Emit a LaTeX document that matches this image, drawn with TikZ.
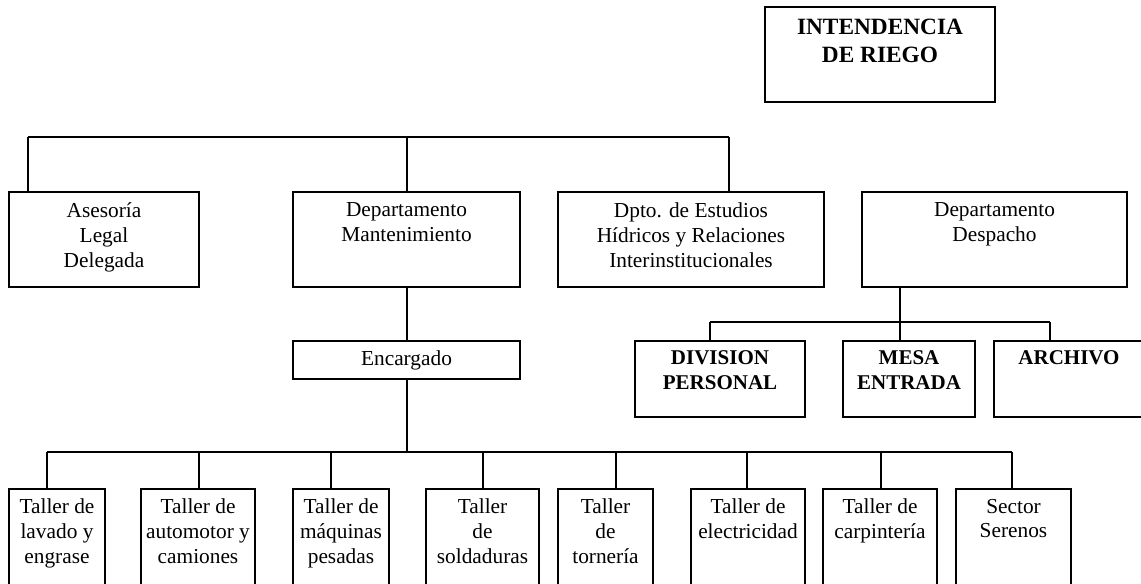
\documentclass[tikz,border=0pt]{standalone}
\usepackage{fontspec}
\setmainfont{Liberation Serif}
\usetikzlibrary{fit}

\tikzset{
  caja/.style={draw, line width=2pt, inner sep=0pt},
  linea/.style={line width=1.5pt},
  texto/.style={anchor=north, inner sep=0pt, align=center, font=\fontsize{16}{18.6}\selectfont},
  negrita/.style={anchor=north, inner sep=0pt, align=center, font=\fontsize{15.75}{18.75}\selectfont\bfseries},
}

\begin{document}
\begin{tikzpicture}[x=0.75pt,y=0.75pt,yscale=-1,xscale=1]
\path [use as bounding box, clip] (0,0) rectangle (1141,583);

%Shape: Rectangle [top]
\node [caja, fit={(765,7) (995,102)}] (intendencia) {};
%Shape: Rectangle [first level]
\node [caja, fit={(9,192) (199,287)}] (asesoria) {};
\node [caja, fit={(293,192) (520,287)}] (mant) {};
\node [caja, fit={(558,192) (824,287)}] (estudios) {};
\node [caja, fit={(862,192) (1127,287)}] (despacho) {};
%Shape: Rectangle [second level]
\node [caja, fit={(293,341) (520,379)}] (encargado) {};
\node [caja, fit={(635,341) (805,417)}] (division) {};
\node [caja, fit={(843,341) (975,417)}] (mesa) {};
\node [caja, fit={(994,341) (1144,417)}] (archivo) {};
%Shape: Rectangle [talleres]
\node [caja, fit={(9,489) (105,600)}] (t1) {};
\node [caja, fit={(141,489) (255,600)}] (t2) {};
\node [caja, fit={(293,489) (389,600)}] (t3) {};
\node [caja, fit={(426,489) (539,600)}] (t4) {};
\node [caja, fit={(558,489) (653,600)}] (t5) {};
\node [caja, fit={(691,489) (805,600)}] (t6) {};
\node [caja, fit={(823,489) (937,600)}] (t7) {};
\node [caja, fit={(956,489) (1071,600)}] (t8) {};

%Straight Lines [first level]
\coordinate (bus1L) at (28,137);
\coordinate (bus1R) at (729,137);
\draw [linea] (bus1L) -- (bus1R);
\draw [linea] (bus1L) -- (bus1L |- asesoria.north);
\draw [linea] (mant.north |- bus1L) -- (mant.north);
\draw [linea] (bus1R) -- (bus1R |- estudios.north);
%Straight Lines [despacho]
\coordinate (bus2L) at (710,322);
\coordinate (bus2M) at (900,322);
\coordinate (bus2R) at (1050,322);
\draw [linea] (bus2L) -- (bus2R);
\draw [linea] (bus2M |- despacho.south) -- (bus2M) -- (bus2M |- mesa.north);
\draw [linea] (bus2L) -- (bus2L |- division.north);
\draw [linea] (bus2R) -- (bus2R |- archivo.north);
%Straight Lines [mantenimiento]
\draw [linea] (mant.south) -- (encargado.north);
\foreach \x/\n in {47/t1,199/t2,331/t3,483/t4,616/t5,747/t6,881/t7,1012/t8}
  \coordinate (c\n) at (\x,452);
\draw [linea] (ct1) -- (ct8);
\draw [linea] (encargado.south) -- (encargado.south |- ct1);
\foreach \n in {t1,t2,t3,t4,t5,t6,t7,t8}
  \draw [linea] (c\n) -- (c\n |- \n.north);

% Text Node
\node [negrita, font=\fontsize{17.5}{21}\selectfont\bfseries] (intendencia-txt) at ([yshift=9.75pt]intendencia.north) {INTENDENCIA\\DE RIEGO};
% Text Node
\node [texto] (asesoria-txt) at ([yshift=9pt]asesoria.north) {Asesoría\\Legal\\Delegada};
\node [texto] (mant-txt) at ([yshift=9pt]mant.north) {Departamento\\Mantenimiento};
\node [texto] (estudios-txt) at ([yshift=9pt]estudios.north) {Dpto. de Estudios\\Hídricos y Relaciones\\Interinstitucionales};
\node [texto] (despacho-txt) at ([yshift=9pt]despacho.north) {Departamento\\Despacho};
% Text Node
\node [texto] (encargado-txt) at ([yshift=8.25pt]encargado.north) {Encargado};
\node [negrita] (division-txt) at ([yshift=8.25pt]division.north) {DIVISION\\PERSONAL};
\node [negrita] (mesa-txt) at ([yshift=8.25pt]mesa.north) {MESA\\ENTRADA};
\node [negrita] (archivo-txt) at ([yshift=8.25pt]archivo.north) {ARCHIVO};
% Text Node
\node [texto] (t1-txt) at ([yshift=8.25pt]t1.north) {Taller de\\lavado y\\engrase};
\node [texto] (t2-txt) at ([yshift=8.25pt]t2.north) {Taller de\\automotor y\\camiones};
\node [texto] (t3-txt) at ([yshift=8.25pt]t3.north) {Taller de\\máquinas\\pesadas};
\node [texto] (t4-txt) at ([yshift=8.25pt]t4.north) {Taller\\de\\soldaduras};
\node [texto] (t5-txt) at ([yshift=8.25pt]t5.north) {Taller\\de\\tornería};
\node [texto] (t6-txt) at ([yshift=8.25pt]t6.north) {Taller de\\electricidad};
\node [texto] (t7-txt) at ([yshift=8.25pt]t7.north) {Taller de\\carpintería};
\node [texto] (t8-txt) at ([yshift=8.25pt]t8.north) {Sector\\Serenos};

\end{tikzpicture}
\end{document}
